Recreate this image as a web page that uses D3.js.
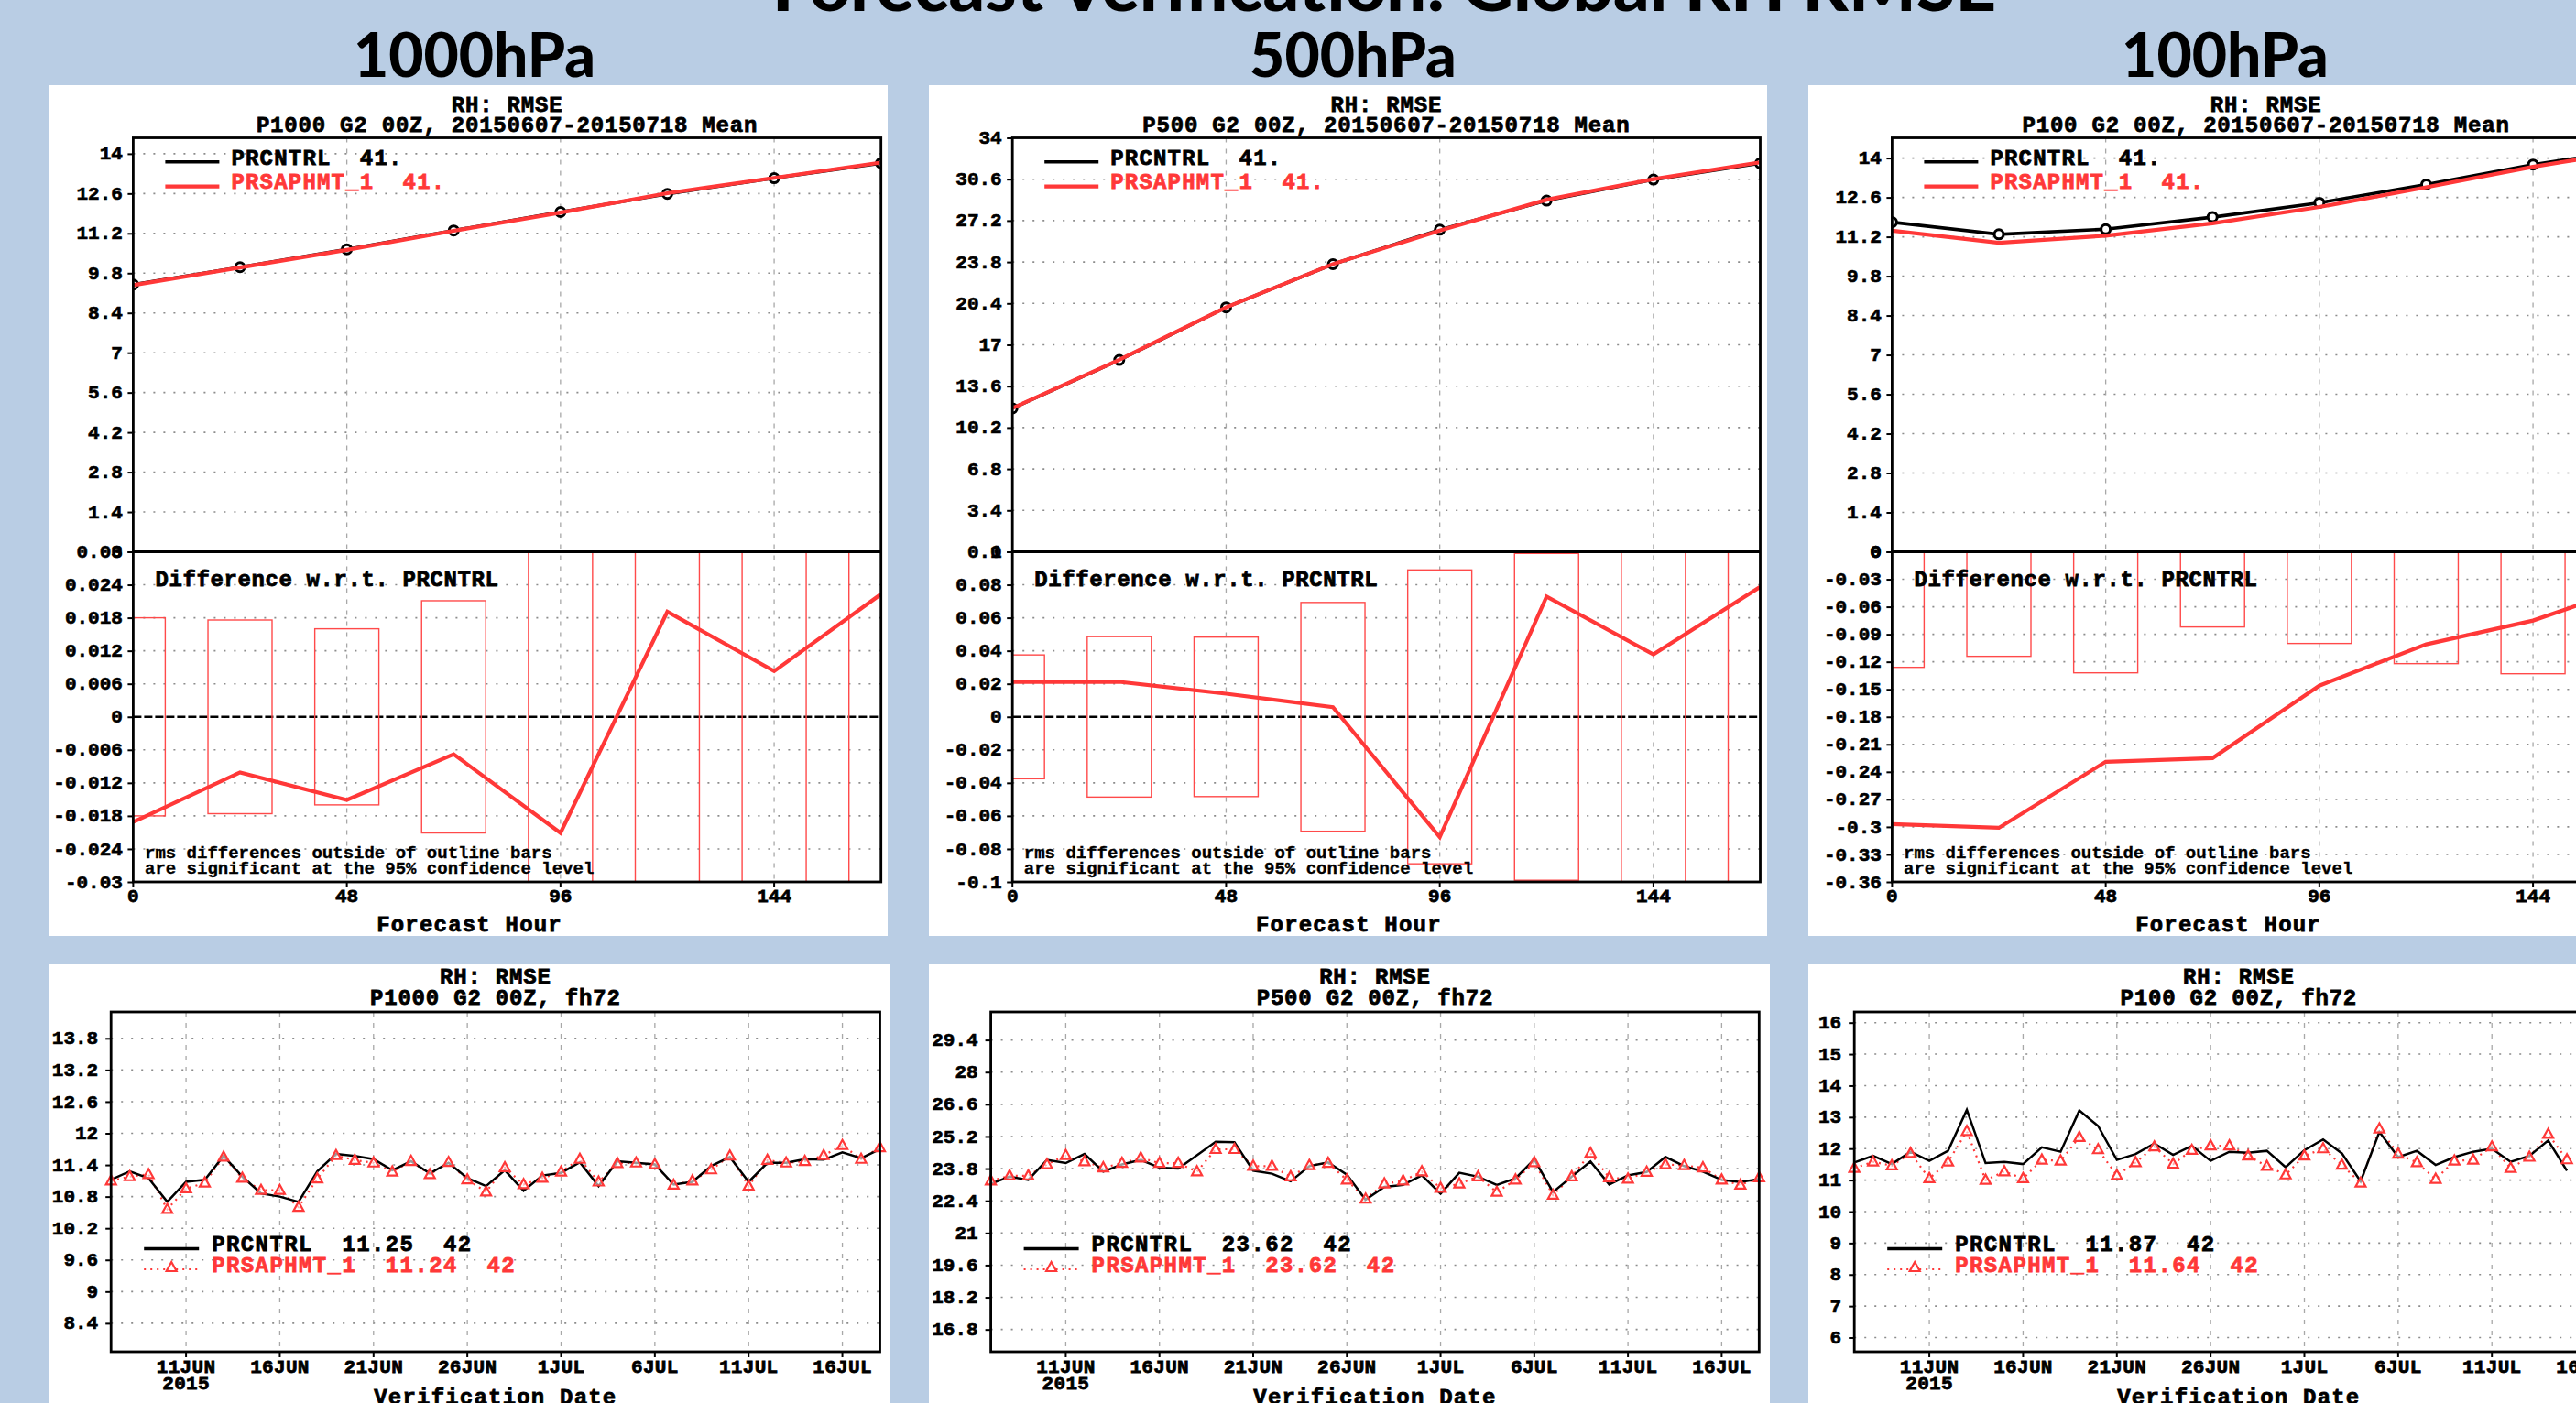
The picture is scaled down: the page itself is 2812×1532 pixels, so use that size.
<!DOCTYPE html>
<html>
<head>
<meta charset="utf-8">
<script src="https://cdn.jsdelivr.net/npm/d3@7"></script>
<style>
  html, body { margin: 0; padding: 0; background: #b9cde4; }
  svg { display: block; }
  .mono { font-family: 'Liberation Mono', 'DejaVu Sans Mono', monospace; font-weight: bold; white-space: pre; }
  .head { font-family: Lato, 'Open Sans', sans-serif; font-weight: 900; fill: #000; }
</style>
</head>
<body>
<svg id="fig" width="2812" height="1532"></svg>
<script>
// ---------------------------------------------------------------
// Forecast-hour statistics, 20150607-20150718 mean, RH RMSE
// ---------------------------------------------------------------
const fcstHours = [0, 24, 48, 72, 96, 120, 144, 168];

// 1000 hPa
const rmse1000Ctrl = [9.40, 10.01, 10.64, 11.30, 11.95, 12.59, 13.14, 13.67];
const rmse1000Exp  = [9.38, 10.00, 10.62, 11.29, 11.93, 12.61, 13.15, 13.69];
const diff1000     = [-0.0191, -0.0101, -0.0151, -0.0068, -0.0211, 0.0191, 0.0083, 0.0223];
const sig1000      = [0.0180, 0.0176, 0.0160, 0.0211, 0.036, 0.036, 0.036, 0.036];

// 500 hPa
const rmse500Ctrl = [11.78, 15.75, 20.07, 23.62, 26.45, 28.84, 30.57, 31.91];
const rmse500Exp  = [11.80, 15.77, 20.08, 23.63, 26.38, 28.91, 30.61, 31.99];
const diff500     = [0.0212, 0.0212, 0.0140, 0.0059, -0.0729, 0.0729, 0.0378, 0.0788];
const sig500      = [0.0375, 0.0486, 0.0483, 0.0693, 0.0890, 0.0990, 0.12, 0.12];

// 100 hPa
const rmse100Ctrl = [11.72, 11.29, 11.47, 11.90, 12.41, 13.06, 13.77, 14.33];
const rmse100Exp  = [11.42, 10.99, 11.24, 11.68, 12.26, 12.96, 13.69, 14.30];
const diff100     = [-0.297, -0.301, -0.229, -0.225, -0.146, -0.101, -0.075, -0.035];
const sig100      = [0.126, 0.114, 0.132, 0.082, 0.100, 0.122, 0.133, 0.12];

// axis tick labels, forecast-hour panels
const hourTicks = ["0", "48", "96", "144"];
const upper1000Ticks = ["0", "1.4", "2.8", "4.2", "5.6", "7", "8.4", "9.8", "11.2", "12.6", "14"];
const lower1000Ticks = ["-0.03", "-0.024", "-0.018", "-0.012", "-0.006", "0", "0.006", "0.012", "0.018", "0.024", "0.03"];
const upper500Ticks  = ["0", "3.4", "6.8", "10.2", "13.6", "17", "20.4", "23.8", "27.2", "30.6", "34"];
const lower500Ticks  = ["-0.1", "-0.08", "-0.06", "-0.04", "-0.02", "0", "0.02", "0.04", "0.06", "0.08", "0.1"];
const upper100Ticks  = ["0", "1.4", "2.8", "4.2", "5.6", "7", "8.4", "9.8", "11.2", "12.6", "14"];
const lower100Ticks  = ["-0.36", "-0.33", "-0.3", "-0.27", "-0.24", "-0.21", "-0.18", "-0.15", "-0.12", "-0.09", "-0.06", "-0.03", "0"];

// ---------------------------------------------------------------
// Daily fh72 RMSE, verification 7 Jun - 18 Jul 2015
// ---------------------------------------------------------------
const verifDates = d3.utcDay.range(new Date(Date.UTC(2015, 5, 7)), new Date(Date.UTC(2015, 6, 19)));

const fh72Ctrl1000 = [11.12, 11.28, 11.15, 10.70, 11.08, 11.12, 11.57, 11.18, 10.86, 10.80,
                      10.70, 11.28, 11.61, 11.57, 11.51, 11.30, 11.47, 11.24, 11.44, 11.15,
                      11.00, 11.30, 10.91, 11.20, 11.25, 11.45, 11.00, 11.47, 11.44, 11.41,
                      11.03, 11.08, 11.38, 11.55, 11.08, 11.44, 11.44, 11.51, 11.50, 11.64,
                      11.53, 11.70];
const fh72Exp1000  = [11.10, 11.18, 11.22, 10.56, 10.95, 11.06, 11.55, 11.15, 10.92, 10.92,
                      10.60, 11.14, 11.58, 11.49, 11.44, 11.27, 11.47, 11.22, 11.45, 11.12,
                      10.89, 11.35, 11.03, 11.15, 11.27, 11.51, 11.08, 11.43, 11.44, 11.41,
                      11.02, 11.10, 11.31, 11.57, 11.00, 11.49, 11.44, 11.47, 11.58, 11.77,
                      11.51, 11.73];

const fh72Ctrl500 = [23.14, 23.45, 23.31, 24.18, 24.04, 24.44, 23.67, 23.98, 24.18, 23.84,
                     23.80, 24.38, 24.97, 24.95, 23.71, 23.58, 23.25, 23.91, 24.07, 23.54,
                     22.45, 23.01, 23.09, 23.51, 22.71, 23.62, 23.45, 23.09, 23.38, 24.20,
                     22.78, 23.45, 24.11, 23.11, 23.51, 23.65, 24.31, 23.91, 23.67, 23.31,
                     23.22, 23.35];
const fh72Exp500  = [23.27, 23.49, 23.49, 23.98, 24.38, 24.11, 23.84, 24.04, 24.27, 24.04,
                     24.04, 23.67, 24.64, 24.64, 23.91, 23.91, 23.45, 23.94, 24.04, 23.31,
                     22.48, 23.14, 23.27, 23.67, 22.95, 23.14, 23.45, 22.78, 23.31, 24.07,
                     22.65, 23.45, 24.47, 23.41, 23.35, 23.65, 23.98, 23.94, 23.84, 23.31,
                     23.09, 23.41];

const fh72Ctrl100 = [11.56, 11.77, 11.51, 11.90, 11.61, 11.93, 13.23, 11.54, 11.58, 11.51,
                     12.04, 11.90, 13.21, 12.72, 11.64, 11.83, 12.16, 11.80, 12.09, 11.61,
                     11.90, 11.87, 11.93, 11.41, 11.95, 12.29, 11.85, 10.96, 12.53, 11.73,
                     11.93, 11.48, 11.73, 11.90, 12.00, 11.58, 11.77, 12.26, 11.30];
const fh72Exp100  = [11.38, 11.58, 11.46, 11.85, 11.05, 11.58, 12.55, 11.00, 11.27, 11.05,
                     11.64, 11.61, 12.36, 11.97, 11.15, 11.56, 12.06, 11.51, 11.95, 12.09,
                     12.09, 11.77, 11.44, 11.17, 11.77, 12.00, 11.48, 10.91, 12.63, 11.83,
                     11.56, 11.03, 11.61, 11.64, 12.06, 11.38, 11.73, 12.46, 11.65];

// axis tick labels, verification-date panels
const dateTickDays   = ["2015-06-11", "2015-06-16", "2015-06-21", "2015-06-26", "2015-07-01", "2015-07-06", "2015-07-11", "2015-07-16"];
const dateTickLabels = ["11JUN", "16JUN", "21JUN", "26JUN", "1JUL", "6JUL", "11JUL", "16JUL"];
const fh72Ticks1000 = ["8.4", "9", "9.6", "10.2", "10.8", "11.4", "12", "12.6", "13.2", "13.8"];
const fh72Ticks500  = ["16.8", "18.2", "19.6", "21", "22.4", "23.8", "25.2", "26.6", "28", "29.4"];
const fh72Ticks100  = ["6", "7", "8", "9", "10", "11", "12", "13", "14", "15", "16"];

// ---------------------------------------------------------------
const RED = "#ff3838";
const BAR = "#ff4a4a";
const GRID = "#8c8c8c";
const svg = d3.select("#fig");
let clipId = 0;

function addClip(x, y, w, h) {
  const id = "clip" + (clipId++);
  svg.append("clipPath").attr("id", id)
    .append("rect").attr("x", x).attr("y", y).attr("width", w).attr("height", h);
  return "url(#" + id + ")";
}

function text(g, str, x, y, opt = {}) {
  return g.append("text")
    .attr("class", "mono")
    .attr("xml:space", "preserve")
    .attr("x", x).attr("y", y)
    .attr("text-anchor", opt.anchor || "start")
    .attr("font-size", opt.size || 24)
    .attr("letter-spacing", opt.ls == null ? 1 : opt.ls)
    .attr("font-weight", opt.weight || "bold")
    .attr("fill", opt.color || "#000")
    .attr("stroke", opt.color || "#000")
    .attr("stroke-width", opt.sw == null ? 0.8 : opt.sw)
    .text(str);
}

function yAxisLabels(g, scale, labels, x0, pad) {
  const ax = d3.axisLeft(scale)
    .tickValues(labels.map(Number))
    .tickFormat((d, i) => labels[i])
    .tickSize(6).tickPadding(pad);
  const a = g.append("g").attr("transform", `translate(${x0},0)`).call(ax);
  a.select(".domain").remove();
  a.selectAll(".tick line").attr("stroke", "#000").attr("stroke-width", 2);
  a.selectAll(".tick text")
    .attr("class", "mono").attr("font-size", 21).attr("fill", "#000")
    .attr("stroke", "#000").attr("stroke-width", 0.7)
    .attr("dy", "0.29em");
}

function hGrid(g, scale, labels, x0, x1, skip) {
  labels.map(Number).filter(v => !skip.includes(v)).forEach(v => {
    g.append("line").attr("x1", x0).attr("x2", x1)
      .attr("y1", scale(v)).attr("y2", scale(v))
      .attr("stroke", GRID).attr("stroke-width", 1.6).attr("stroke-dasharray", "2,9");
  });
}

// ---------------------------------------------------------------
// Forecast-hour panel: RMSE (top) and difference with 95% bars (bottom)
// ---------------------------------------------------------------
const Y_TOP = 150.5, Y_MID = 602.5, Y_BOT = 963;

function hourPanel(p) {
  const g = svg.append("g");
  g.append("rect").attr("x", p.box[0]).attr("y", 93).attr("width", p.box[1] - p.box[0]).attr("height", 929).attr("fill", "#fff");

  const x = d3.scaleLinear().domain([0, 168]).range([p.x0, p.x1]);
  const yU = d3.scaleLinear().domain([0, p.upperMax]).range([Y_MID, Y_TOP]);
  const yL = d3.scaleLinear().domain(p.lowerDomain).range([Y_BOT, Y_MID]);
  const w = p.x1 - p.x0;

  // grid
  hGrid(g, yU, p.upperTicks, p.x0, p.x1, [0, p.upperMax]);
  hGrid(g, yL, p.lowerTicks, p.x0, p.x1, [p.lowerDomain[0], p.lowerDomain[1], 0]);
  hourTicks.map(Number).filter(h => h > 0).forEach(h => {
    g.append("line").attr("x1", x(h)).attr("x2", x(h)).attr("y1", Y_TOP).attr("y2", Y_BOT)
      .attr("stroke", "#a8a8a8").attr("stroke-width", 1.3).attr("stroke-dasharray", "5,7");
  });
  if (p.lowerDomain[1] > 0) {
    g.append("line").attr("x1", p.x0).attr("x2", p.x1).attr("y1", yL(0)).attr("y2", yL(0))
      .attr("stroke", "#000").attr("stroke-width", 2.4).attr("stroke-dasharray", "9,3");
  }

  // significance bars
  const clipLow = addClip(p.x0, Y_MID, w, Y_BOT - Y_MID);
  const gl = g.append("g").attr("clip-path", clipLow);
  gl.selectAll("rect.sig").data(fcstHours).join("rect")
    .attr("x", h => x(h - 7.2)).attr("width", h => x(h + 7.2) - x(h - 7.2))
    .attr("y", (h, i) => yL(p.sig[i])).attr("height", (h, i) => yL(-p.sig[i]) - yL(p.sig[i]))
    .attr("fill", "none").attr("stroke", BAR).attr("stroke-width", 1.4);
  gl.append("path").datum(p.diff)
    .attr("d", d3.line().x((d, i) => x(fcstHours[i])).y(d => yL(d)))
    .attr("fill", "none").attr("stroke", RED).attr("stroke-width", 4.2).attr("stroke-linejoin", "miter");

  // RMSE curves
  const clipUp = addClip(p.x0, Y_TOP, w, Y_MID - Y_TOP);
  const gu = g.append("g").attr("clip-path", clipUp);
  const lineU = d3.line().x((d, i) => x(fcstHours[i])).y(d => yU(d));
  gu.append("path").datum(p.ctrl).attr("d", lineU)
    .attr("fill", "none").attr("stroke", "#000").attr("stroke-width", 3.6);
  gu.selectAll("circle").data(p.ctrl).join("circle")
    .attr("cx", (d, i) => x(fcstHours[i])).attr("cy", d => yU(d)).attr("r", 5)
    .attr("fill", "#fff").attr("stroke", "#000").attr("stroke-width", 3);
  gu.append("path").datum(p.exp).attr("d", lineU)
    .attr("fill", "none").attr("stroke", RED).attr("stroke-width", 4.2);

  // frame
  g.append("rect").attr("x", p.x0).attr("y", Y_TOP).attr("width", w).attr("height", Y_BOT - Y_TOP)
    .attr("fill", "none").attr("stroke", "#000").attr("stroke-width", 2.8);
  g.append("line").attr("x1", p.x0).attr("x2", p.x1).attr("y1", Y_MID).attr("y2", Y_MID)
    .attr("stroke", "#000").attr("stroke-width", 3);

  // axes
  yAxisLabels(g, yU, p.upperTicks, p.x0, 5.5);
  yAxisLabels(g, yL, p.lowerTicks, p.x0, 5.5);
  hourTicks.forEach(t => {
    g.append("line").attr("x1", x(+t)).attr("x2", x(+t)).attr("y1", Y_BOT).attr("y2", Y_BOT + 6)
      .attr("stroke", "#000").attr("stroke-width", 2);
    text(g, t, x(+t), 985, { anchor: "middle", size: 21, ls: 0 });
  });

  // titles and annotations
  const cx = (p.x0 + p.x1) / 2;
  text(g, "RH: RMSE", cx, 122, { anchor: "middle", ls: 0.8 });
  text(g, p.subtitle, cx, 144, { anchor: "middle", ls: 0.8 });
  text(g, "Forecast Hour", cx - 41, 1017, { anchor: "middle", ls: 1.2 });

  g.append("line").attr("x1", p.x0 + 35).attr("x2", p.x0 + 94).attr("y1", 176.7).attr("y2", 176.7)
    .attr("stroke", "#000").attr("stroke-width", 3.4);
  g.append("line").attr("x1", p.x0 + 35).attr("x2", p.x0 + 94).attr("y1", 203.6).attr("y2", 203.6)
    .attr("stroke", RED).attr("stroke-width", 4.2);
  text(g, "PRCNTRL  41.", p.x0 + 107, 180, { ls: 1.2 });
  text(g, "PRSAPHMT_1  41.", p.x0 + 107, 205.5, { ls: 1.2, color: RED });

  text(g, "Difference w.r.t. PRCNTRL", p.x0 + 24, 639.5, { ls: 0.6 });
  text(g, "rms differences outside of outline bars", p.x0 + 12.6, 936.5, { size: 19, ls: 0, weight: "normal", sw: 0.35 });
  text(g, "are significant at the 95% confidence level", p.x0 + 12.6, 954, { size: 19, ls: 0, weight: "normal", sw: 0.35 });
}

// ---------------------------------------------------------------
// Verification-date panel: daily fh72 RMSE
// ---------------------------------------------------------------
const T_TOP = 1105, T_BOT = 1476;

function datePanel(p) {
  const g = svg.append("g");
  g.append("rect").attr("x", p.box[0]).attr("y", 1053).attr("width", p.box[1] - p.box[0]).attr("height", 480).attr("fill", "#fff");

  const x = d3.scaleUtc().domain([verifDates[0], verifDates[verifDates.length - 1]]).range([p.x0, p.x1]);
  const y = d3.scaleLinear().domain(p.yDomain).range([T_BOT, T_TOP]);
  const w = p.x1 - p.x0;
  const tickDates = dateTickDays.map(s => new Date(s + "T00:00:00Z"));

  hGrid(g, y, p.ticks, p.x0, p.x1, []);
  tickDates.forEach(d => {
    g.append("line").attr("x1", x(d)).attr("x2", x(d)).attr("y1", T_TOP).attr("y2", T_BOT)
      .attr("stroke", "#a8a8a8").attr("stroke-width", 1.3).attr("stroke-dasharray", "5,7");
  });

  const clip = addClip(p.x0 - 8, T_TOP, w + 16, T_BOT - T_TOP);
  const gd = g.append("g").attr("clip-path", clip);
  const line = d3.line().x((d, i) => x(verifDates[i])).y(d => y(d));
  gd.append("path").datum(p.exp).attr("d", line)
    .attr("fill", "none").attr("stroke", RED).attr("stroke-width", 2.2).attr("stroke-dasharray", "2,5");
  gd.append("path").datum(p.ctrl).attr("d", line)
    .attr("fill", "none").attr("stroke", "#000").attr("stroke-width", 2.5);
  const tri = "M0,-6L5.5,4L-5.5,4Z";
  gd.selectAll("path.tri").data(p.exp).join("path").attr("class", "tri")
    .attr("d", tri)
    .attr("transform", (d, i) => `translate(${x(verifDates[i])},${y(d)})`)
    .attr("fill", "#fff").attr("fill-opacity", 0.6).attr("stroke", RED).attr("stroke-width", 2.2);

  g.append("rect").attr("x", p.x0).attr("y", T_TOP).attr("width", w).attr("height", T_BOT - T_TOP)
    .attr("fill", "none").attr("stroke", "#000").attr("stroke-width", 2.8);

  yAxisLabels(g, y, p.ticks, p.x0, 8);

  tickDates.forEach((d, i) => {
    g.append("line").attr("x1", x(d)).attr("x2", x(d)).attr("y1", T_BOT).attr("y2", T_BOT + 6)
      .attr("stroke", "#000").attr("stroke-width", 2);
    text(g, dateTickLabels[i], x(d), 1499, { anchor: "middle", size: 21, ls: 0.3 });
  });
  text(g, "2015", x(tickDates[0]), 1517, { anchor: "middle", size: 21, ls: 0.3 });

  const cx = (p.x0 + p.x1) / 2;
  text(g, "RH: RMSE", cx, 1074, { anchor: "middle", ls: 0.8 });
  text(g, p.subtitle, cx, 1097, { anchor: "middle", ls: 0.8 });
  text(g, "Verification Date", cx, 1533, { anchor: "middle", ls: 1.2 });

  g.append("line").attr("x1", p.x0 + 36).attr("x2", p.x0 + 96).attr("y1", 1363.5).attr("y2", 1363.5)
    .attr("stroke", "#000").attr("stroke-width", 3.4);
  g.append("line").attr("x1", p.x0 + 36).attr("x2", p.x0 + 96).attr("y1", 1386).attr("y2", 1386)
    .attr("stroke", RED).attr("stroke-width", 2.2).attr("stroke-dasharray", "2,5");
  g.append("path").attr("d", tri).attr("transform", `translate(${p.x0 + 66},1384)`)
    .attr("fill", "#fff").attr("stroke", RED).attr("stroke-width", 2.2);
  text(g, p.ctrlLegend, p.x0 + 110, 1366, { ls: 1.4 });
  text(g, p.expLegend, p.x0 + 110, 1388.5, { ls: 1.4, color: RED });
}

// ---------------------------------------------------------------
// page headings
// ---------------------------------------------------------------
svg.append("text").attr("class", "head").attr("x", 1511).attr("y", 12)
  .attr("text-anchor", "middle").attr("font-size", 76)
  .attr("textLength", 1336).attr("lengthAdjust", "spacingAndGlyphs")
  .text("Forecast Verification: Global RH RMSE");
[["1000hPa", 518], ["500hPa", 1477], ["100hPa", 2429]].forEach(([s, cx]) => {
  svg.append("text").attr("class", "head").attr("x", cx).attr("y", 84)
    .attr("text-anchor", "middle").attr("font-size", 66).text(s);
});

hourPanel({ box: [53, 969], x0: 145.4, x1: 961.7, upperMax: 14.56, lowerDomain: [-0.03, 0.03],
  upperTicks: upper1000Ticks, lowerTicks: lower1000Ticks,
  ctrl: rmse1000Ctrl, exp: rmse1000Exp, diff: diff1000, sig: sig1000,
  subtitle: "P1000 G2 00Z, 20150607-20150718 Mean" });
hourPanel({ box: [1014, 1929], x0: 1105.2, x1: 1921.5, upperMax: 34, lowerDomain: [-0.1, 0.1],
  upperTicks: upper500Ticks, lowerTicks: lower500Ticks,
  ctrl: rmse500Ctrl, exp: rmse500Exp, diff: diff500, sig: sig500,
  subtitle: "P500 G2 00Z, 20150607-20150718 Mean" });
hourPanel({ box: [1974, 2900], x0: 2065.4, x1: 2881.7, upperMax: 14.72, lowerDomain: [-0.36, 0],
  upperTicks: upper100Ticks, lowerTicks: lower100Ticks,
  ctrl: rmse100Ctrl, exp: rmse100Exp, diff: diff100, sig: sig100,
  subtitle: "P100 G2 00Z, 20150607-20150718 Mean" });

datePanel({ box: [53, 972], x0: 121.2, x1: 960.5, yDomain: [7.86, 14.30], ticks: fh72Ticks1000,
  ctrl: fh72Ctrl1000, exp: fh72Exp1000, subtitle: "P1000 G2 00Z, fh72",
  ctrlLegend: "PRCNTRL  11.25  42", expLegend: "PRSAPHMT_1  11.24  42" });
datePanel({ box: [1014, 1932], x0: 1081.6, x1: 1920.3, yDomain: [15.83, 30.62], ticks: fh72Ticks500,
  ctrl: fh72Ctrl500, exp: fh72Exp500, subtitle: "P500 G2 00Z, fh72",
  ctrlLegend: "PRCNTRL  23.62  42", expLegend: "PRSAPHMT_1  23.62  42" });
datePanel({ box: [1974, 2900], x0: 2024.2, x1: 2863.5, yDomain: [5.55, 16.34], ticks: fh72Ticks100,
  ctrl: fh72Ctrl100, exp: fh72Exp100, subtitle: "P100 G2 00Z, fh72",
  ctrlLegend: "PRCNTRL  11.87  42", expLegend: "PRSAPHMT_1  11.64  42" });
</script>
</body>
</html>
